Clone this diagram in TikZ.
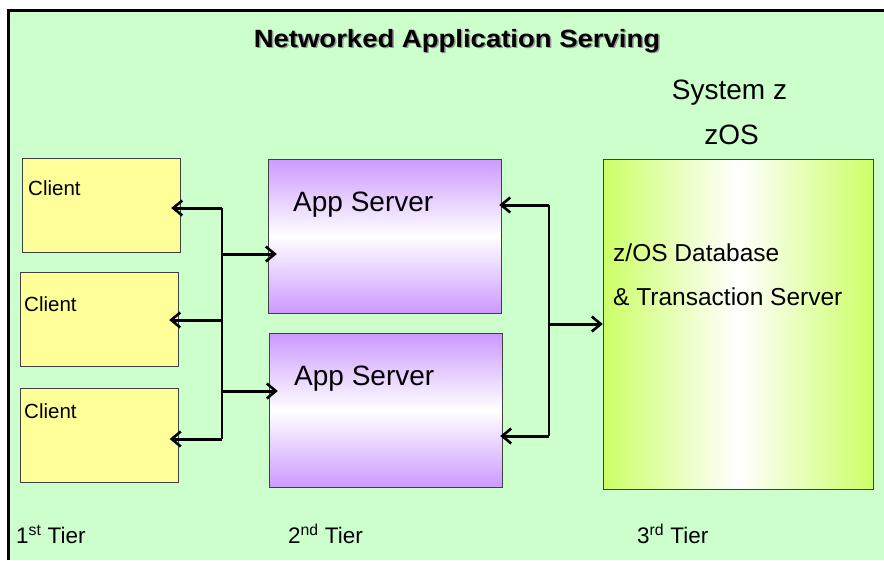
\documentclass[tikz,border=0pt]{standalone}
\usepackage{fontspec}
\setmainfont{Liberation Sans}
\newfontfamily\widefont[FakeStretch=1.1]{Liberation Sans}
\usetikzlibrary{arrows.meta}
\definecolor{bggreen}{HTML}{CCFFCC}
\definecolor{clientyellow}{HTML}{FFFF99}
\definecolor{srvpurple}{HTML}{CC99FF}
\definecolor{zlime}{HTML}{CCFF66}
\newcommand{\shadowtitle}[1]{\makebox[0pt][l]{\raisebox{-1.5pt}{\hspace{1.5pt}\textcolor{black!40}{#1}}}#1}

\begin{document}
\begin{tikzpicture}[x=1pt, y=-1pt,
  client/.style={draw=black!75, fill=clientyellow, minimum width=158pt, minimum height=94pt, inner sep=0pt},
  appsrv/.style={draw=black!75, top color=srvpurple, bottom color=srvpurple, middle color=white, minimum width=233pt, minimum height=154pt, inner sep=0pt},
  zbox/.style={draw=black!75, left color=zlime, right color=zlime, middle color=white, minimum width=270pt, minimum height=330pt, inner sep=0pt},
  lbl/.style={inner sep=0pt, font=\fontsize{20.5}{24}\selectfont},
  tier/.style={inner sep=0pt, font=\fontsize{22.5}{26}\selectfont},
  big/.style={inner sep=0pt, font=\fontsize{28}{32}\selectfont},
  arrow/.style={-{Straight Barb[length=9pt,width=15pt,line width=2.6pt]}, line width=3pt},
  bus/.style={line width=1.5pt}
]
\useasboundingbox (0,0) rectangle (884,560);
% frame
\fill[bggreen] (8,10) rectangle (884,560);
\draw[line width=3pt] (8,560) -- (8,10.5) -- (884,10.5);

\node[inner sep=0pt, anchor=base, font=\widefont\bfseries\fontsize{25}{29}\selectfont] (title) at (457,47) {\shadowtitle{Networked Application Serving}};

% 1st tier
\node[client] (c1) at (101,205) {};
\node[client] (c2) at (99,319) {};
\node[client] (c3) at (99.5,435.5) {};
\node[lbl, anchor=base west] (c1txt) at (28,195) {Client};
\node[lbl, anchor=base west] (c2txt) at (24,311) {Client};
\node[lbl, anchor=base west] (c3txt) at (24,418) {Client};

% 2nd tier
\node[appsrv] (app1) at (384.5,236) {};
\node[appsrv] (app2) at (385.5,410.5) {};
\node[big, anchor=base west] (app1txt) at (293,211) {App Server};
\node[big, anchor=base west] (app2txt) at (294,385) {App Server};

% 3rd tier
\node[zbox] (zos) at (738,324) {};
\node[big, anchor=base] (sysz) at (729.5,99) {System z};
\node[big, anchor=base] (zostxt) at (731.5,144) {zOS};
\node[inner sep=0pt, anchor=base west, font=\fontsize{24.5}{28}\selectfont] (db) at (613,261) {z/OS Database};
\node[inner sep=0pt, anchor=base west, font=\fontsize{24.5}{28}\selectfont] (ts) at (613,305) {\& Transaction Server};

% left bus
\coordinate (lb1) at (222,208);
\coordinate (lb2) at (222,254);
\coordinate (lb3) at (222,320);
\coordinate (lb4) at (222,391);
\coordinate (lb5) at (222,439);
\draw[bus] (lb1) -- (lb5);
\draw[arrow, shorten >=-9pt] (lb1) -- (lb1 -| c1.east);
\draw[arrow, shorten >=-9pt] (lb3) -- (lb3 -| c2.east);
\draw[arrow, shorten >=-9pt] (lb5) -- (lb5 -| c3.east);
\draw[arrow, shorten >=-9pt] (lb2) -- (lb2 -| app1.west);
\draw[arrow, shorten >=-9pt] (lb4) -- (lb4 -| app2.west);

% right bus
\coordinate (rb1) at (549,205);
\coordinate (rb2) at (549,324);
\coordinate (rb3) at (549,436);
\draw[bus] (rb1) -- (rb3);
\draw[arrow, shorten >=-2pt] (rb1) -- (rb1 -| app1.east);
\draw[arrow, shorten >=-2pt] (rb3) -- (rb3 -| app2.east);
\draw[arrow] (rb2) -- (zos.west);

\node[tier, anchor=base west] (tier1) at (16,543) {1\textsuperscript{st} Tier};
\node[tier, anchor=base west] (tier2) at (288,543) {2\textsuperscript{nd} Tier};
\node[tier, anchor=base west] (tier3) at (637,543) {3\textsuperscript{rd} Tier};
\end{tikzpicture}
\end{document}
